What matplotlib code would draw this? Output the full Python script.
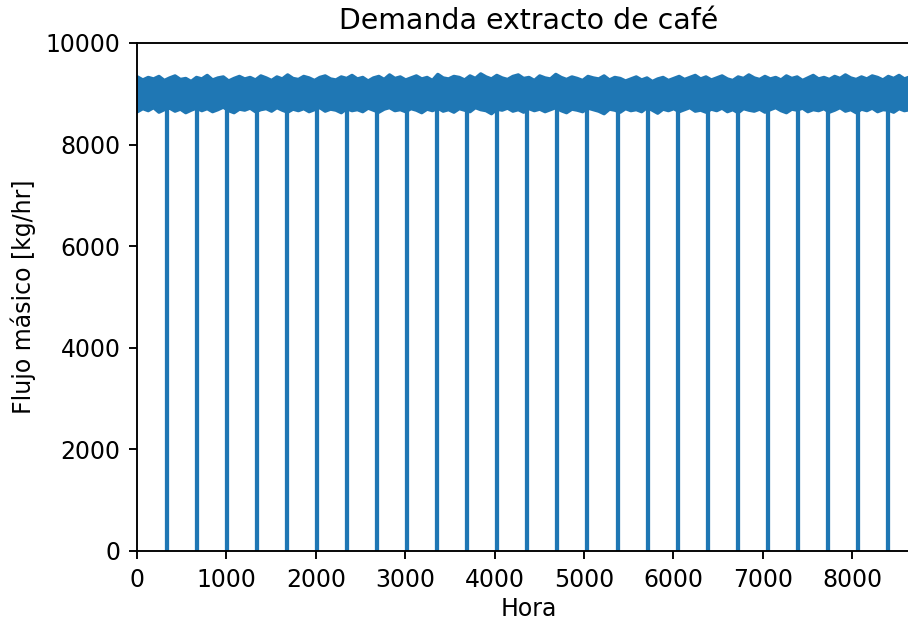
import numpy as np
import matplotlib.pyplot as plt

# envelope of the hourly demand band, read every 60 h
env_hours = np.arange(0, 8641, 60)
upper_env = [9340, 9280, 9330, 9300, 9350, 9270, 9320, 9360, 9290, 9310,
             9250, 9330, 9300, 9370, 9280, 9320, 9340, 9260, 9310, 9350,
             9300, 9330, 9280, 9360, 9320, 9270, 9340, 9300, 9380, 9310,
             9290, 9350, 9320, 9270, 9330, 9360, 9300, 9280, 9340, 9310,
             9370, 9300, 9330, 9260, 9320, 9350, 9290, 9380, 9310, 9340,
             9280, 9320, 9360, 9300, 9330, 9270, 9390, 9320, 9300, 9350,
             9330, 9280, 9360, 9310, 9400, 9340, 9300, 9370, 9320, 9290,
             9350, 9380, 9310, 9330, 9270, 9360, 9320, 9300, 9390, 9330,
             9290, 9340, 9310, 9270, 9350, 9320, 9300, 9360, 9280, 9330,
             9310, 9260, 9300, 9340, 9280, 9320, 9250, 9300, 9330, 9270,
             9310, 9350, 9290, 9330, 9370, 9300, 9340, 9280, 9320, 9360,
             9300, 9270, 9340, 9310, 9380, 9320, 9290, 9350, 9300, 9330,
             9280, 9360, 9310, 9340, 9270, 9320, 9370, 9300, 9330, 9290,
             9350, 9310, 9380, 9320, 9290, 9340, 9300, 9360, 9330, 9280,
             9350, 9310, 9370, 9300, 9340]
lower_env = [8660, 8720, 8680, 8740, 8650, 8700, 8730, 8670, 8710, 8640,
             8690, 8730, 8680, 8720, 8660, 8700, 8750, 8680, 8640, 8710,
             8690, 8730, 8660, 8700, 8720, 8670, 8740, 8690, 8650, 8710,
             8680, 8720, 8660, 8700, 8740, 8670, 8710, 8690, 8640, 8720,
             8680, 8700, 8660, 8730, 8690, 8650, 8710, 8740, 8680, 8700,
             8660, 8720, 8690, 8640, 8710, 8680, 8730, 8670, 8700, 8650,
             8720, 8690, 8660, 8740, 8700, 8680, 8620, 8710, 8690, 8730,
             8670, 8700, 8650, 8720, 8680, 8710, 8660, 8700, 8740, 8680,
             8640, 8710, 8690, 8660, 8730, 8700, 8670, 8620, 8710, 8690,
             8650, 8720, 8680, 8700, 8660, 8740, 8690, 8630, 8710, 8680,
             8720, 8660, 8700, 8740, 8670, 8690, 8650, 8710, 8680, 8730,
             8660, 8700, 8640, 8720, 8690, 8670, 8710, 8650, 8700, 8740,
             8680, 8640, 8710, 8690, 8730, 8660, 8700, 8680, 8720, 8650,
             8690, 8740, 8670, 8700, 8640, 8710, 8680, 8730, 8660, 8700,
             8690, 8650, 8720, 8680, 8700]

# hours where the demand drops to zero (every two weeks)
drop_hours = [336, 672, 1008, 1344, 1680, 2016, 2352, 2688, 3024, 3360,
              3696, 4032, 4368, 4704, 5040, 5376, 5712, 6048, 6384, 6720,
              7056, 7392, 7728, 8064, 8400]
drop_level = 8900

color = "#1f77b4"
dpi = 170

fig = plt.figure(figsize=(909 / dpi, 622 / dpi), dpi=dpi)
ax = fig.add_axes([137 / 909, 71 / 622, 783 / 909, 508 / 622])

ax.fill_between(env_hours, lower_env, upper_env, color=color, linewidth=1.5,
                edgecolor=color)
ax.vlines(drop_hours, 0, drop_level, color=color, linewidth=1.8)

ax.set_xlim(0, 8760)
ax.set_ylim(0, 10000)
ax.set_xticks([0, 1000, 2000, 3000, 4000, 5000, 6000, 7000, 8000])
ax.set_yticks([0, 2000, 4000, 6000, 8000, 10000])
ax.set_title("Demanda extracto de café")
ax.set_xlabel("Hora", labelpad=2.5)
ax.set_ylabel("Flujo másico [kg/hr]")

fig.savefig("out.png", dpi=dpi)
